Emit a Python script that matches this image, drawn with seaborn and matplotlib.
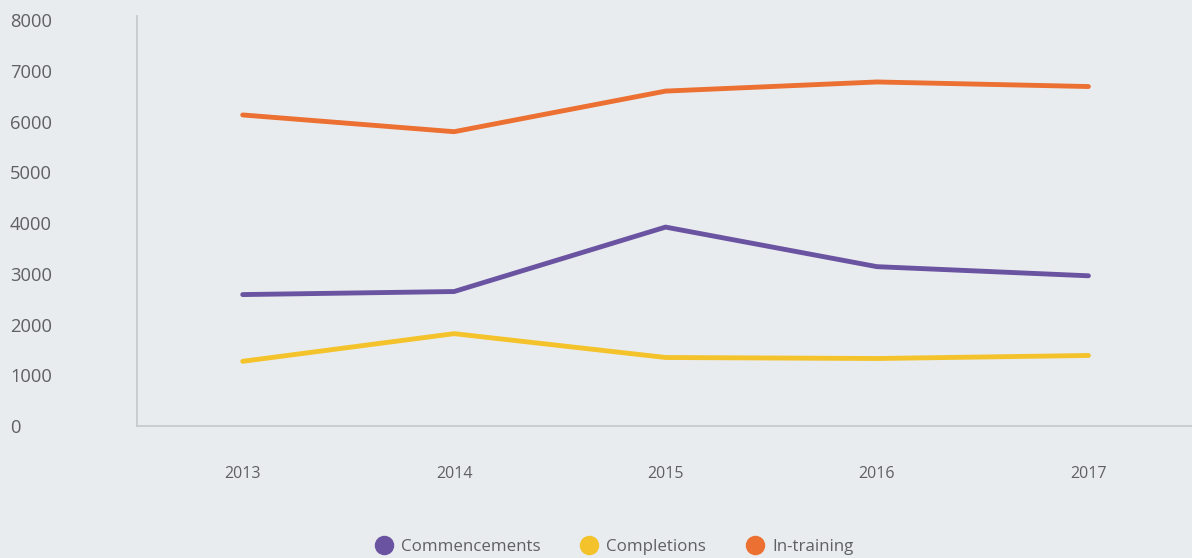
import pandas as pd
import matplotlib.pyplot as plt
import seaborn as sns
from matplotlib.lines import Line2D

# Values
years = ['2013', '2014', '2015', '2016', '2017']
commencements = [2590, 2650, 3920, 3140, 2960]
completions = [1275, 1820, 1350, 1330, 1390]
in_training = [6130, 5800, 6600, 6780, 6690]

series_names = ['Commencements', 'Completions', 'In-training']
colors = ['#6A53A0', '#F4C32B', '#EC7031']

df = pd.DataFrame({'Year': years,
                   'Commencements': commencements,
                   'Completions': completions,
                   'In-training': in_training})
long_df = df.melt(id_vars='Year', var_name='Series', value_name='Value')

bg = '#E9ECEF'
text_col = '#5E6063'
sns.set_style('white')
plt.rcParams['font.family'] = ['Open Sans', 'DejaVu Sans']

fig = plt.figure(figsize=(11.92, 5.58), dpi=100, facecolor=bg)
ax = fig.add_axes([137 / 1192, 1 - 426 / 558, 1 - 137 / 1192, 410 / 558])
ax.set_facecolor(bg)

sns.lineplot(data=long_df, x='Year', y='Value', hue='Series',
             hue_order=series_names, palette=colors, linewidth=3.5,
             ax=ax, legend=False, solid_capstyle='round')

ax.set_xlim(-0.5, 4.49)
ax.set_ylim(0, 8080)
ax.set_yticks(range(0, 8001, 1000))
ax.set_xlabel('')
ax.set_ylabel('')

for side in ['top', 'right']:
    ax.spines[side].set_visible(False)
for side in ['left', 'bottom']:
    ax.spines[side].set_color('#C3C7CB')
    ax.spines[side].set_linewidth(1.2)

ax.tick_params(axis='y', length=0, pad=91.5, labelsize=13.2,
               labelcolor=text_col)
ax.tick_params(axis='x', length=0, pad=28.5, labelsize=11.5,
               labelcolor=text_col)
for lab in ax.get_yticklabels():
    lab.set_horizontalalignment('left')

handles = [Line2D([], [], linestyle='none', marker='o', markersize=13,
                  markerfacecolor=c, markeredgecolor=c) for c in colors]
fig.legend(handles, series_names, loc='lower center', ncol=3,
           bbox_to_anchor=(0.512, -0.022), frameon=False,
           fontsize=12.2, labelcolor=text_col, handletextpad=0.0,
           columnspacing=1.9)

fig.savefig('out.png', dpi=100, facecolor=bg)
